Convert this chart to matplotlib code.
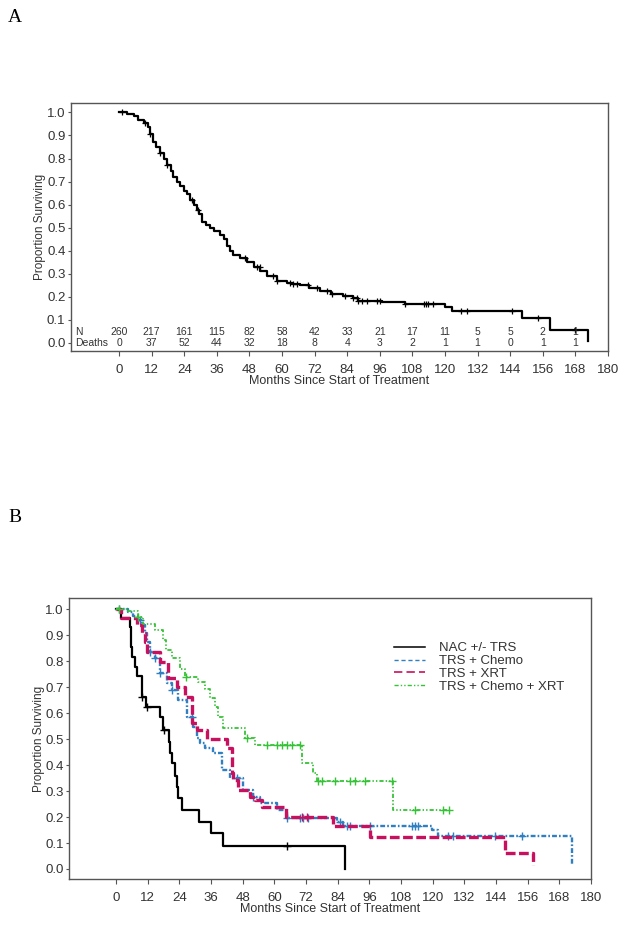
import numpy as np
import matplotlib
matplotlib.use("Agg")
import matplotlib.pyplot as plt
from matplotlib.lines import Line2D

plt.rcParams['font.family'] = ['Liberation Sans', 'DejaVu Sans']
plt.rcParams['lines.scale_dashes'] = False

# ---------------- Panel A data ----------------
A_times = [0, 3, 5.5, 7, 9, 10.5, 11.5, 12.5, 13.5, 15, 16.5, 17.5, 19, 20, 21.5,
           22.5, 24, 25, 26, 27.5, 28.6, 29.5, 30.4, 32, 33.5, 35, 37, 38.5, 39.6,
           41, 42, 44.5, 47, 49.5, 52, 54.5, 58, 61.7, 64, 66.6, 70, 74, 78, 82.6,
           86.3, 88, 96.7, 105.3, 120, 122.4, 148.2, 158.6, 172.6]
A_surv = [1.0, 0.992, 0.985, 0.967, 0.955, 0.935, 0.905, 0.87, 0.85, 0.825, 0.80,
          0.77, 0.745, 0.72, 0.70, 0.68, 0.66, 0.645, 0.62, 0.60, 0.575, 0.56,
          0.525, 0.51, 0.50, 0.485, 0.47, 0.45, 0.42, 0.40, 0.38, 0.368, 0.352,
          0.33, 0.31, 0.29, 0.27, 0.26, 0.255, 0.252, 0.237, 0.225, 0.213, 0.205,
          0.194, 0.184, 0.179, 0.169, 0.155, 0.14, 0.107, 0.056, 0.01]
A_censor = [1, 9.6, 11.5, 15.1, 17.5, 26.7, 29.2, 46.4, 50.7, 51.9, 56.8, 58, 63,
            64.2, 65.4, 69.7, 72.8, 76.4, 78.3, 83.2, 86.3, 87.5, 88.1, 89.4, 91.2,
            94.9, 96.1, 105.3, 112.4, 113, 113.9, 115.7, 125.9, 128, 144.6, 154.4, 168]

risk_months = [0, 12, 24, 36, 48, 60, 72, 84, 96, 108, 120, 132, 144, 156, 168]
A_n = [260, 217, 161, 115, 82, 58, 42, 33, 21, 17, 11, 5, 5, 2, 1]
A_deaths = [0, 37, 52, 44, 32, 18, 8, 4, 3, 2, 1, 1, 0, 1, 1]

# ---------------- Panel B data ----------------
groups = ['NAC +/- TRS', 'TRS + Chemo', 'TRS + XRT', 'TRS + Chemo + XRT']

nac_times = [0, 1.9, 5.3, 5.7, 6.2, 7.2, 7.8, 9.7, 11.4, 16.7, 17.9, 20.2, 20.5,
             21.4, 22.4, 23.0, 23.6, 24.9, 31.4, 35.9, 40.4, 86.8]
nac_surv = [1.0, 0.968, 0.933, 0.856, 0.815, 0.779, 0.743, 0.664, 0.625, 0.587,
            0.535, 0.49, 0.448, 0.407, 0.359, 0.314, 0.272, 0.227, 0.182, 0.137,
            0.09, 0.0]
nac_censor = [9.9, 11.8, 18.2, 64.7]

chemo_times = [0, 4.5, 6.5, 8.5, 10.0, 11.0, 11.6, 12.9, 14.8, 16.7, 19.2, 21.1,
               23.6, 26.8, 29.0, 30.6, 31.8, 33.7, 36.9, 40.0, 43.2, 48.2, 52.0,
               54.6, 60.9, 64.7, 83.6, 86.1, 119.6, 122.1, 172.7]
chemo_surv = [1.0, 0.99, 0.975, 0.96, 0.94, 0.91, 0.875, 0.837, 0.811, 0.753,
              0.715, 0.689, 0.651, 0.587, 0.548, 0.503, 0.484, 0.465, 0.445,
              0.381, 0.349, 0.304, 0.278, 0.254, 0.227, 0.195, 0.182, 0.166,
              0.150, 0.128, 0.015]
chemo_censor = [1.0, 9.1, 12.9, 14.8, 16.7, 21.1, 28.7, 45.7, 52.0, 64.7, 69.7,
                71.0, 72.9, 84.9, 87.4, 88.7, 96.2, 112.0, 113.3, 114.6, 125.9,
                127.8, 143.6, 153.7]

xrt_times = [0, 1.9, 8.1, 10.0, 11.0, 11.6, 16.7, 19.8, 23.0, 26.1, 28.7, 30.6,
             34.4, 41.9, 43.8, 44.5, 46.4, 50.8, 52.7, 55.2, 64.4, 82.3, 96.2,
             147.4, 158.1]
xrt_surv = [1.0, 0.968, 0.94, 0.907, 0.875, 0.837, 0.798, 0.734, 0.702, 0.664,
            0.561, 0.535, 0.50, 0.467, 0.371, 0.342, 0.303, 0.278, 0.265, 0.24,
            0.20, 0.166, 0.124, 0.063, 0.015]
xrt_censor = [70.6, 72.3]

cx_times = [0, 4.7, 8.5, 10.3, 14.8, 17.9, 18.9, 21.1, 24.3, 26.1, 31.2, 33.7,
            35.6, 37.5, 38.8, 40.7, 48.9, 52.7, 70.4, 74.8, 76.0, 104.8, 126.6]
cx_surv = [1.0, 0.995, 0.97, 0.945, 0.922, 0.88, 0.843, 0.811, 0.772, 0.74, 0.72,
           0.695, 0.657, 0.625, 0.587, 0.542, 0.503, 0.477, 0.407, 0.368, 0.338,
           0.227, 0.227]
cx_censor = [1.0, 8.5, 26.5, 49.5, 57.1, 60.9, 62.8, 64.7, 66.6, 69.7, 76.7, 77.9,
             83.0, 88.7, 90.6, 94.4, 104.5, 113.3, 124.0, 126.0]

x_ticks = list(range(0, 181, 12))
y_ticks = [0.0, 0.1, 0.2, 0.3, 0.4, 0.5, 0.6, 0.7, 0.8, 0.9, 1.0]

W, H = 632, 933
fig = plt.figure(figsize=(W / 100, H / 100), dpi=100)

TXT = '#333333'
SPINE = '#555555'


def surv_at(times, surv, t):
    i = np.searchsorted(np.asarray(times), t, side='right') - 1
    return np.asarray(surv)[i]


def style_axes(ax, ylim):
    ax.set_xlim(-17.7, 180)
    ax.set_ylim(*ylim)
    ax.set_xticks(x_ticks)
    ax.set_yticks(y_ticks)
    ax.set_yticklabels([f"{v:.1f}" for v in y_ticks])
    for s in ax.spines.values():
        s.set_color(SPINE)
        s.set_linewidth(1.0)
    ax.tick_params(axis='x', direction='out', length=3.5, width=0.8, color=SPINE,
                   pad=6, labelsize=9.5, labelcolor=TXT)
    ax.tick_params(axis='y', direction='out', length=2.5, width=0.8, color=SPINE,
                   pad=1.5, labelsize=9.5, labelcolor=TXT)
    ax.set_xlabel('Months Since Start of Treatment', fontsize=9, color=TXT, labelpad=-1)
    ax.set_ylabel('Proportion Surviving', fontsize=8.5, color=TXT, labelpad=0.5)


# ---------------- Panel A ----------------
axA = fig.add_axes([71 / W, 1 - 351 / H, (608 - 71) / W, 248 / H])
style_axes(axA, (-0.035, 1.041))
axA.step(A_times, A_surv, where='post', color='black', lw=1.6)
axA.plot(A_censor, [surv_at(A_times, A_surv, t) for t in A_censor], ls='none',
         marker='+', ms=5, mew=0.9, color='black')
axA.text(-16.3, 0.049, 'N', fontsize=7.5, color=TXT, va='center', ha='left')
axA.text(-16.3, 0.0, 'Deaths', fontsize=7.5, color=TXT, va='center', ha='left')
for m, n, d in zip(risk_months, A_n, A_deaths):
    axA.text(m, 0.049, str(n), fontsize=7.5, color=TXT, va='center', ha='center')
    axA.text(m, 0.0, str(d), fontsize=7.5, color=TXT, va='center', ha='center')

fig.text(8 / W, 1 - 18 / H, 'A', fontsize=14, family='Liberation Serif',
         va='center', ha='left')

# ---------------- Panel B ----------------
axB = fig.add_axes([69.3 / W, 1 - 879.3 / H, 521.7 / W, 281.3 / H])
style_axes(axB, (-0.0397, 1.0435))

specs = [
    (nac_times, nac_surv, nac_censor, 'black', 1.6, None),
    (chemo_times, chemo_surv, chemo_censor, '#2f7fc1', 1.7, (3.5, 1.5, 1.2, 1.5)),
    (xrt_times, xrt_surv, xrt_censor, '#c8105e', 2.4, (7, 2.5)),
    (cx_times, cx_surv, cx_censor, '#36c236', 1.3, (3, 1.5, 1, 1.5, 1, 1.5)),
]
for times, surv, cens, col, lw, dash in specs:
    ln, = axB.step(times, surv, where='post', color=col, lw=lw)
    if dash is not None:
        ln.set_dashes(dash)
    axB.plot(cens, [surv_at(times, surv, t) for t in cens], ls='none',
             marker='+', ms=6, mew=1.0, color=col)

handles = [
    Line2D([], [], color='black', lw=1.1),
    Line2D([], [], color='#2f7fc1', lw=1.0, dashes=(3, 2)),
    Line2D([], [], color='#c8105e', lw=1.2, dashes=(6, 3)),
    Line2D([], [], color='#36c236', lw=1.0, dashes=(3, 1.5, 1, 1.5, 1, 1.5)),
]
leg = axB.legend(handles, groups, loc='upper left', frameon=False, fontsize=9.5,
                 handlelength=2.35, handletextpad=1.05, labelspacing=0.05,
                 borderpad=0, borderaxespad=0,
                 bbox_to_anchor=(394 / W, 1 - 642 / H), bbox_transform=fig.transFigure)
for t in leg.get_texts():
    t.set_color(TXT)

fig.text(8 / W, 1 - 517 / H, 'B', fontsize=14, family='Liberation Serif',
         va='center', ha='left')

fig.savefig('out.png', dpi=100)
